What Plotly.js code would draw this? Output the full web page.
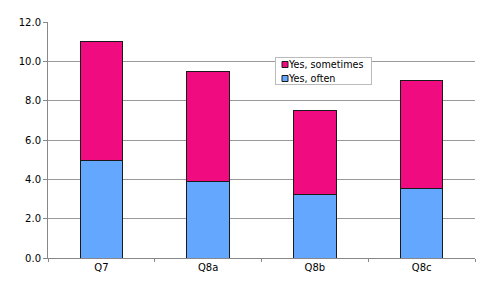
<!DOCTYPE html>
<html><head><meta charset="utf-8">
<script src="https://cdn.plot.ly/plotly-3.0.1.min.js"></script>
<style>html,body{margin:0;padding:0;background:#fff}#c{width:490px;height:294px}</style>
</head><body><div id="c"></div>
<script>
const categories = ["Q7", "Q8a", "Q8b", "Q8c"];
const yesOften = [4.95, 3.9, 3.25, 3.55];
const yesSometimes = [6.05, 5.6, 4.25, 5.5];
const yTicks = [0, 2, 4, 6, 8, 10, 12];
const yTickLabels = ["0.0", "2.0", "4.0", "6.0", "8.0", "10.0", "12.0"];

const font = {family: "DejaVu Sans, Verdana, sans-serif", size: 10, color: "#000"};
const data = [
  {type: "bar", name: "Yes, often", x: categories, y: yesOften,
   marker: {color: "#63A8FE", line: {color: "#1a1a1a", width: 1}}},
  {type: "bar", name: "Yes, sometimes", x: categories, y: yesSometimes,
   marker: {color: "#F00C80", line: {color: "#1a1a1a", width: 1}}}
];
const layout = {
  width: 490, height: 294, barmode: "stack", bargap: 0.6,
  margin: {l: 48, r: 15, t: 22, b: 36},
  paper_bgcolor: "#fff", plot_bgcolor: "#fff", font: font,
  showlegend: true,
  legend: {x: 0.532, y: 0.852, xanchor: "left", yanchor: "top", traceorder: "reversed",
    bgcolor: "#fff", bordercolor: "#bbb", borderwidth: 1,
    font: {family: font.family, size: 9.6, color: "#000"},
    itemwidth: 30, tracegroupgap: 0},
  xaxis: {type: "category", showline: true, linecolor: "#888", linewidth: 1,
    ticks: "outside", tickson: "boundaries", ticklen: 3, tickcolor: "#888",
    showgrid: false, tickfont: font, fixedrange: true},
  yaxis: {range: [0, 12], tickvals: yTicks, ticktext: yTickLabels,
    showline: true, linecolor: "#888", linewidth: 1, ticks: "outside", ticklen: 4,
    tickcolor: "#888", showgrid: true, gridcolor: "#999", gridwidth: 1,
    zeroline: false, tickfont: font, fixedrange: true}
};
Plotly.newPlot("c", data, layout, {displayModeBar: false, staticPlot: true}).then(gd => {
  // compact the legend to match the reference's small squares and tight rows
  const leg = gd.querySelector(".legend");
  if (!leg) return;
  leg.setAttribute("transform", "translate(275,57)");
  const bg = leg.querySelector("rect.bg");
  if (bg) { bg.setAttribute("width", 96); bg.setAttribute("height", 27); bg.setAttribute("x", 0.5); bg.setAttribute("y", 0.5); }
  const items = leg.querySelectorAll("g.traces");
  items.forEach((it, i) => {
    it.setAttribute("transform", "translate(0," + (7.5 + i * 14) + ")");
    const t = it.querySelector("text.legendtext");
    if (t) t.setAttribute("x", 14);
    const lp = it.querySelector("g.legendpoints");
    if (lp) lp.setAttribute("transform", "translate(-10,0)");
    it.querySelectorAll("g.legendpoints path").forEach(p => p.setAttribute("d", "M3,3H-3V-3H3Z"));
    const tog = it.querySelector("rect.legendtoggle");
    if (tog) tog.remove();
  });
  const sb = leg.querySelector(".scrollbox");
  if (sb) sb.setAttribute("transform", "translate(0,0)");
});
</script></body></html>
